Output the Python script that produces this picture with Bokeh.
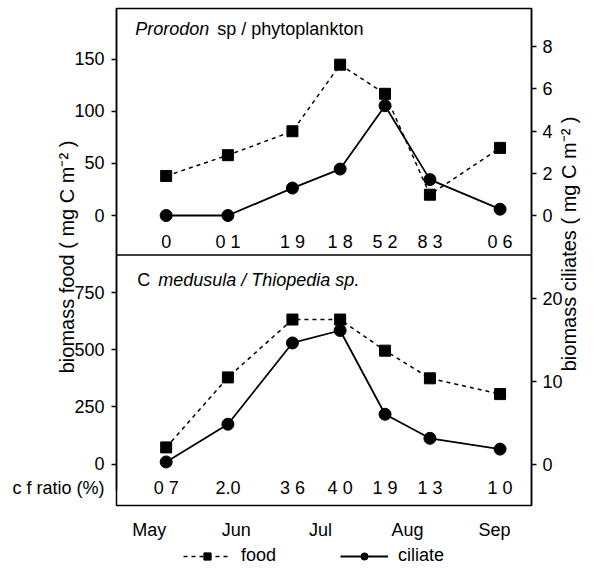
import math
from bokeh.plotting import figure
from bokeh.layouts import column
from bokeh.models import (Range1d, LinearAxis, FixedTicker, Span, Legend,
                          LegendItem, ColumnDataSource)
from bokeh.core.properties import value
from bokeh.embed import file_html
from bokeh.resources import INLINE

# ---------------- data ----------------
days = [6, 28, 51, 68, 84, 100, 125]          # sampling dates, days after 1 May
month_days = [0, 31, 61, 92, 123]
month_labels = ["May", "Jun", "Jul", "Aug", "Sep"]

top_food = [38, 58, 81, 145, 117, 20, 65]
top_ciliate = [0.0, 0.0, 1.3, 2.2, 5.2, 1.7, 0.3]
top_ratio = ["0", "0 1", "1 9", "1 8", "5 2", "8 3", "0 6"]

bot_food = [73, 379, 632, 632, 496, 375, 306]
bot_ciliate = [0.25, 4.8, 14.6, 16.1, 6.0, 3.1, 1.8]
bot_ratio = ["0 7", "2.0", "3 6", "4 0", "1 9", "1 3", "1 0"]

top_food_ticks = [0, 50, 100, 150]
top_cil_ticks = [0, 2, 4, 6, 8]
bot_food_ticks = [0, 250, 500, 750]
bot_cil_ticks = [0, 10, 20]

left_title = "biomass food ( mg C m\u207b\u00b2 )"
right_title = "biomass ciliates ( mg C m\u207b\u00b2 )"
ratio_title = "c f ratio (%)"

# ---------------- layout constants ----------------
FONT = "Liberation Sans"
FS = "18px"
TITLE_FS = "20px"
SPLIT = 254 / 504            # fraction of frame height taken by lower panel
TOP_PANEL = (SPLIT, 1.0)
BOT_PANEL = (0.0, SPLIT)
TOP_FOOD_LIM = (-38, 199)
TOP_CIL_LIM = (-1.87, 9.8)
BOT_FOOD_LIM = (-181, 914)
BOT_CIL_LIM = (-5.0, 25.2)
TOP_RATIO_Y = -25            # in top food units
BOT_RATIO_Y = -103           # in bottom food units
RIGHT_TITLE_FRAC = 0.27      # anchor of right title, frame fraction


def full_range(lim, panel):
    lo, hi = lim
    plo, phi = panel
    span = (hi - lo) / (phi - plo)
    start = lo - plo * span
    return Range1d(start, start + span)


def frac(v, lim, panel):
    lo, hi = lim
    plo, phi = panel
    return plo + (v - lo) / (hi - lo) * (phi - plo)


p = figure(width=594, height=542, output_backend="svg", toolbar_location=None,
           x_range=Range1d(-11.7, 136.2), y_range=Range1d(0, 1),
           min_border_left=116, min_border_right=61, min_border_top=8,
           min_border_bottom=30)
p.background_fill_color = "white"
p.border_fill_color = "white"
p.grid.visible = False
p.outline_line_color = "black"
p.outline_line_width = 1.5

p.extra_y_ranges = {
    "top_food": full_range(TOP_FOOD_LIM, TOP_PANEL),
    "top_cil": full_range(TOP_CIL_LIM, TOP_PANEL),
    "bot_food": full_range(BOT_FOOD_LIM, BOT_PANEL),
    "bot_cil": full_range(BOT_CIL_LIM, BOT_PANEL),
}

# ---- left axis (both panels + "c f ratio" row label) ----
food_tick_pos = [frac(v, TOP_FOOD_LIM, TOP_PANEL) for v in top_food_ticks] + \
                [frac(v, BOT_FOOD_LIM, BOT_PANEL) for v in bot_food_ticks]
food_tick_lab = [str(v) for v in top_food_ticks] + [str(v) for v in bot_food_ticks]
ratio_pos = frac(BOT_RATIO_Y, BOT_FOOD_LIM, BOT_PANEL)
ya = p.yaxis[0]
ya.ticker = FixedTicker(ticks=food_tick_pos + [ratio_pos], minor_ticks=food_tick_pos)
overrides = {t: l for t, l in zip(food_tick_pos, food_tick_lab)}
overrides[ratio_pos] = ratio_title
ya.major_label_overrides = overrides
ya.major_tick_line_color = None
ya.major_tick_in = 0
ya.major_tick_out = 0
ya.minor_tick_line_color = "black"
ya.minor_tick_line_width = 1.3
ya.minor_tick_in = 0
ya.minor_tick_out = 5
ya.major_label_standoff = 7
ya.axis_label = left_title
ya.axis_label_standoff = -69
ya.bounds = (0.03, 1.0)

# ---- right axis ----
cil_tick_pos = [frac(v, TOP_CIL_LIM, TOP_PANEL) for v in top_cil_ticks] + \
               [frac(v, BOT_CIL_LIM, BOT_PANEL) for v in bot_cil_ticks]
cil_tick_lab = [str(v) for v in top_cil_ticks] + [str(v) for v in bot_cil_ticks]
ra = LinearAxis(ticker=FixedTicker(ticks=cil_tick_pos))
ra.major_label_overrides = {t: l for t, l in zip(cil_tick_pos, cil_tick_lab)}
ra.major_tick_in = 0
ra.major_tick_out = 5
ra.major_tick_line_width = 1.3
ra.minor_tick_line_color = None
ra.major_label_standoff = 6
p.add_layout(ra, "right")

# outer right axis carrying only the rotated title
rt = LinearAxis(ticker=FixedTicker(ticks=[RIGHT_TITLE_FRAC]))
rt.major_label_overrides = {RIGHT_TITLE_FRAC: right_title}
rt.major_label_orientation = math.pi / 2
rt.major_tick_line_color = None
rt.major_tick_in = 0
rt.major_tick_out = 0
rt.minor_tick_line_color = None
rt.axis_line_color = None
rt.major_label_standoff = 4
p.add_layout(rt, "right")

for ax in (ya, ra, rt):
    ax.axis_line_width = 1.5
    ax.major_label_text_font = FONT
    ax.major_label_text_font_size = FS
    ax.major_label_text_color = "black"
    ax.axis_label_text_font = FONT
    ax.axis_label_text_font_size = TITLE_FS
    ax.axis_label_text_font_style = "normal"
    ax.axis_label_text_color = "black"
rt.major_label_text_font_size = TITLE_FS
ya.axis_line_color = "black"
ra.axis_line_color = "black"

xa = p.xaxis[0]
xa.ticker = FixedTicker(ticks=month_days)
xa.major_label_overrides = {d: m for d, m in zip(month_days, month_labels)}
xa.axis_line_color = None
xa.major_tick_line_color = None
xa.minor_tick_line_color = None
xa.major_label_text_font = FONT
xa.major_label_text_font_size = FS
xa.major_label_text_color = "black"
xa.major_label_standoff = 8

p.add_layout(Span(location=SPLIT, dimension="width", line_color="black",
                  line_width=1.5))

# ---------------- series ----------------
src_top = ColumnDataSource(dict(x=days, food=top_food, cil=top_ciliate, ratio=top_ratio))
src_bot = ColumnDataSource(dict(x=days, food=bot_food, cil=bot_ciliate, ratio=bot_ratio))

CIL_STYLE = dict(line_color="black", line_width=1.8)
FOOD_STYLE = dict(line_color="black", line_width=1.5, line_dash="4 4")
for src, fr, cr, ry in ((src_top, "top_food", "top_cil", TOP_RATIO_Y),
                        (src_bot, "bot_food", "bot_cil", BOT_RATIO_Y)):
    p.line("x", "cil", source=src, y_range_name=cr, **CIL_STYLE)
    p.scatter("x", "cil", source=src, y_range_name=cr, marker="circle",
              size=12, fill_color="black", line_color="black")
    p.line("x", "food", source=src, y_range_name=fr, **FOOD_STYLE)
    p.scatter("x", "food", source=src, y_range_name=fr, marker="square",
              size=11, fill_color="black", line_color="black")
    p.text("x", ry, text="ratio", source=src, y_range_name=fr,
           text_font=value(FONT), text_font_size=FS, text_align="center",
           text_baseline="middle", text_color="black")

# ---------------- panel titles ----------------
p.text(x=[-5], y=[179.5], text=["Prorodon"], y_range_name="top_food",
       text_font=value(FONT), text_font_size=FS, text_font_style="italic",
       text_baseline="middle", text_align="left", text_color="black")
p.text(x=[-5], y=[179.5], text=["sp  / phytoplankton"], y_range_name="top_food",
       x_offset=82, text_font=value(FONT), text_font_size=FS,
       text_baseline="middle", text_align="left", text_color="black")
p.text(x=[-4.3], y=[806], text=["C"], y_range_name="bot_food",
       text_font=value(FONT), text_font_size=FS,
       text_baseline="middle", text_align="left", text_color="black")
p.text(x=[-4.3], y=[806], text=["medusula / Thiopedia sp."], y_range_name="bot_food",
       x_offset=21, text_font=value(FONT), text_font_size=FS, text_font_style="italic",
       text_baseline="middle", text_align="left", text_color="black")

# ---------------- legend strip ----------------
lf = figure(width=594, height=26, output_backend="svg", toolbar_location=None,
            x_range=Range1d(-1000, -999), y_range=Range1d(-1000, -999),
            x_axis_type=None, y_axis_type=None, min_border=0)
lf.outline_line_color = None
lf.grid.visible = False
l_fl = lf.line("x", "food", source=src_top, **FOOD_STYLE)
l_fs = lf.scatter("x", "food", source=src_top, marker="square", size=11,
                  fill_color="black", line_color="black")
l_cl = lf.line("x", "cil", source=src_top, **CIL_STYLE)
l_cs = lf.scatter("x", "cil", source=src_top, marker="circle", size=12,
                  fill_color="black", line_color="black")
legend = Legend(items=[LegendItem(label="food", renderers=[l_fl, l_fs]),
                       LegendItem(label="ciliate", renderers=[l_cl, l_cs])],
                orientation="horizontal", location=(67, 2),
                border_line_color=None, background_fill_alpha=0,
                label_text_font=FONT, label_text_font_size=FS,
                label_text_color="black",
                glyph_width=48, glyph_height=18, label_height=18,
                spacing=64, padding=2, margin=0, label_standoff=10)
lf.add_layout(legend)

layout = column(p, lf, spacing=0)
open("out.html", "w").write(file_html(layout, INLINE))
